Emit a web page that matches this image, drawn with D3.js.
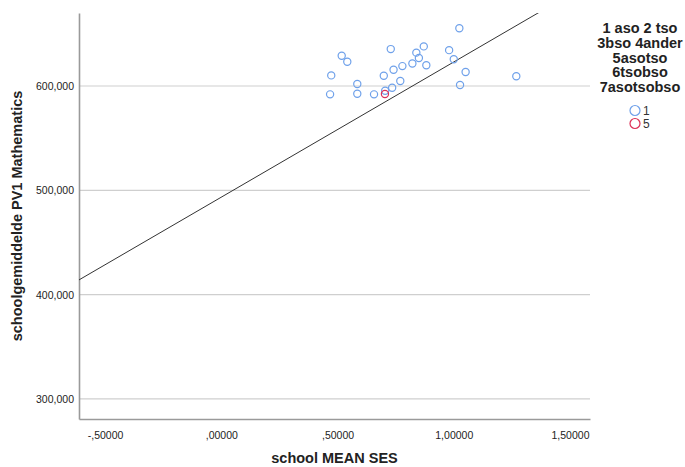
<!DOCTYPE html>
<html>
<head>
<meta charset="utf-8">
<script src="https://cdn.jsdelivr.net/npm/d3@7"></script>
<style>
  body { margin: 0; background: #fff; }
  text { font-family: "Liberation Sans", Arial, sans-serif; }
</style>
</head>
<body>
<div id="chart"></div>
<script>
// school mean SES vs school mean PV1 maths, coloured by track

const schoolSES = [1.024, 0.518, 0.542, 0.729, 0.871, 0.839, 0.850, 0.980, 1.000, 0.822,
  0.779, 0.741, 0.882, 0.473, 0.699, 1.051, 1.269, 0.585, 0.770, 0.735,
  1.027, 0.468, 0.585, 0.657, 0.705, 0.704];
const mathScore = [655.4, 629.0, 623.3, 635.4, 638.0, 632.0, 626.8, 634.4, 625.7, 621.6,
  619.1, 615.6, 619.9, 610.2, 609.8, 613.4, 609.3, 601.9, 604.8, 598.4,
  601.0, 592.0, 592.6, 592.0, 595.5, 592.3];
const track = [1, 1, 1, 1, 1, 1, 1, 1, 1, 1,
  1, 1, 1, 1, 1, 1, 1, 1, 1, 1,
  1, 1, 1, 1, 1, 5];

const legendTitle = ["1 aso 2 tso", "3bso 4ander", "5asotso", "6tsobso", "7asotsobso"];
const legendKeys = [1, 5];

const xTicks = [-0.5, 0, 0.5, 1.0, 1.5];
const yTicks = [300, 400, 500, 600];

// fit line
const fitX = [-0.62, 1.6];
const fitY = [413.1, 700.8];

const width = 685, height = 467;
const margin = {left: 79, top: 13, right: 95, bottom: 48};

const svg = d3.select('#chart').append('svg')
  .attr('width', width)
  .attr('height', height);

const x = d3.scaleLinear()
  .domain([-0.612, 1.586])
  .range([margin.left, width - margin.right]);
const y = d3.scaleLinear()
  .domain([280.8, 670])
  .range([height - margin.bottom, margin.top]);

const color = d3.scaleOrdinal().domain(legendKeys).range(['#6fa1ea', '#dc3158']);

// comma decimal like SPSS
const fmtX = d => {
  let s = d3.format('.5f')(Math.abs(d)).replace('.', ',');
  if (s.startsWith('0,')) s = s.slice(1);
  return (d < 0 ? '-' : '') + s;
};
const fmtY = d => d3.format('.3f')(d).replace('.', ',');

// gridlines
svg.append('g')
  .selectAll('line')
  .data(yTicks)
  .join('line')
  .attr('x1', x.range()[0])
  .attr('x2', x.range()[1])
  .attr('y1', d => y(d))
  .attr('y2', d => y(d))
  .attr('stroke', '#cfcfcf')
  .attr('stroke-width', 1.2);

// axes
const xAxis = svg.append('g')
  .attr('transform', 'translate(0,' + y.range()[0] + ')')
  .call(d3.axisBottom(x).tickValues(xTicks).tickFormat(fmtX).tickSize(0).tickPadding(13));
const yAxis = svg.append('g')
  .attr('transform', 'translate(' + x.range()[0] + ',0)')
  .call(d3.axisLeft(y).tickValues(yTicks).tickFormat(fmtY).tickSize(0).tickPadding(5));

[xAxis, yAxis].forEach(a => {
  a.select('.domain').attr('stroke', '#9a9a9a').attr('stroke-width', 1.6);
  a.selectAll('text')
    .attr('fill', '#222')
    .style('font-size', '10.5px')
    .style('font-family', '"Liberation Sans", Arial, sans-serif');
});

// fit line, clipped to plot
svg.append('clipPath').attr('id', 'plotClip')
  .append('rect')
  .attr('x', x.range()[0])
  .attr('y', y.range()[1])
  .attr('width', x.range()[1] - x.range()[0])
  .attr('height', y.range()[0] - y.range()[1]);

svg.append('line')
  .attr('clip-path', 'url(#plotClip)')
  .attr('x1', x(fitX[0])).attr('y1', y(fitY[0]))
  .attr('x2', x(fitX[1])).attr('y2', y(fitY[1]))
  .attr('stroke', '#333')
  .attr('stroke-width', 1);

// points
const points = schoolSES.map((d, i) => ({ses: d, math: mathScore[i], track: track[i]}));
svg.append('g')
  .selectAll('circle')
  .data(points)
  .join('circle')
  .attr('cx', d => x(d.ses))
  .attr('cy', d => y(d.math))
  .attr('r', 3.6)
  .attr('fill', 'none')
  .attr('stroke', d => color(d.track))
  .attr('stroke-width', 1.2);

// axis titles
svg.append('text')
  .attr('x', (x.range()[0] + x.range()[1]) / 2)
  .attr('y', 463)
  .attr('text-anchor', 'middle')
  .style('font-size', '14.5px')
  .style('font-weight', 'bold')
  .attr('fill', '#222')
  .text('school MEAN SES');

svg.append('text')
  .attr('transform', 'translate(22,' + (y.range()[0] + y.range()[1]) / 2 + ') rotate(-90)')
  .attr('text-anchor', 'middle')
  .style('font-size', '14.5px')
  .style('font-weight', 'bold')
  .attr('fill', '#222')
  .text('schoolgemiddelde PV1 Mathematics');

// legend
const legend = svg.append('g');
legend.selectAll('text.title')
  .data(legendTitle)
  .join('text')
  .attr('class', 'title')
  .attr('x', 640)
  .attr('y', (d, i) => 33 + i * 14.8)
  .attr('text-anchor', 'middle')
  .style('font-size', '14.5px')
  .style('font-weight', 'bold')
  .attr('fill', '#222')
  .text(d => d);

const item = legend.selectAll('g.item')
  .data(legendKeys)
  .join('g')
  .attr('class', 'item')
  .attr('transform', (d, i) => 'translate(635,' + (110.5 + i * 13) + ')');
item.append('circle')
  .attr('r', 5)
  .attr('fill', 'none')
  .attr('stroke', d => color(d))
  .attr('stroke-width', 1.2);
item.append('text')
  .attr('x', 8)
  .attr('y', 4.5)
  .style('font-size', '12px')
  .attr('fill', '#333')
  .text(d => d);
</script>
</body>
</html>
